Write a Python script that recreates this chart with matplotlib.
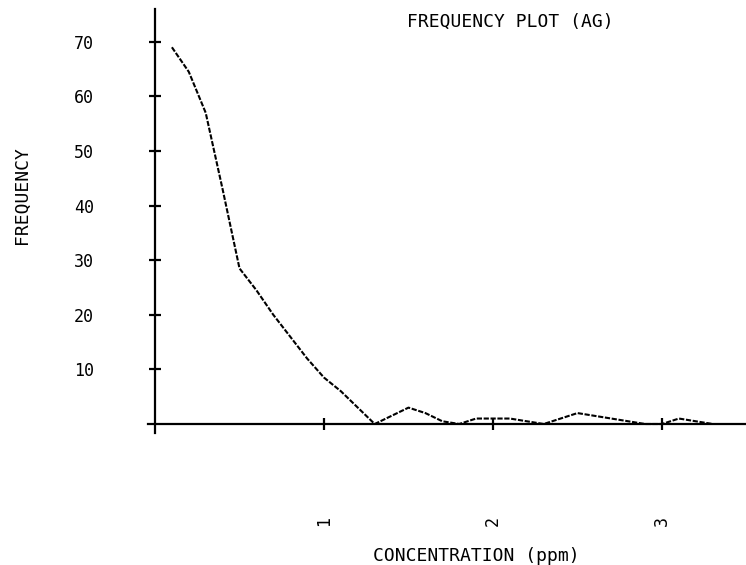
import matplotlib
matplotlib.use("Agg")
import matplotlib.pyplot as plt

# Data
concentration = [0.1, 0.2, 0.3, 0.4, 0.5, 0.6, 0.7, 0.8, 0.9, 1.0,
                 1.1, 1.2, 1.3, 1.4, 1.5, 1.6, 1.7, 1.8, 1.9, 2.0,
                 2.1, 2.2, 2.3, 2.4, 2.5, 2.6, 2.7, 2.8, 2.9, 3.0,
                 3.1, 3.2, 3.3]
frequency = [69, 64.5, 57, 43, 28.5, 24.5, 20, 16, 12, 8.5,
             6, 3, 0, 1.5, 3, 2, 0.5, 0, 1, 1,
             1, 0.5, 0, 1, 2, 1.5, 1, 0.5, 0, 0,
             1, 0.5, 0]

y_ticks = [10, 20, 30, 40, 50, 60, 70]
y_tick_labels = ["10", "20", "30", "40", "50", "60", "70"]
x_ticks = [1, 2, 3]
x_tick_labels = ["1", "2", "3"]

title = "FREQUENCY PLOT (AG)"
x_label = "CONCENTRATION (ppm)"
y_label = "FREQUENCY"

W, H = 746, 565
fig = plt.figure(figsize=(W / 100, H / 100), dpi=100)

# axes geometry (pixels)
x0_px, y0_px = 155, 424
px_per_x = 169.0
px_per_y = 5.46
xmin, xmax = -0.04, 3.5
ymin, ymax = -1.6, 76
left = x0_px + xmin * px_per_x
right = x0_px + xmax * px_per_x
bottom = y0_px - ymin * px_per_y
top = y0_px - ymax * px_per_y
ax = fig.add_axes([left / W, 1 - bottom / H, (right - left) / W, (bottom - top) / H])
ax.set_xlim(xmin, xmax)
ax.set_ylim(ymin, ymax)

ax.plot(concentration, frequency, color="black", linewidth=1.5,
        linestyle=(0, (2.5, 0.8)))

for s in ("top", "right"):
    ax.spines[s].set_visible(False)
ax.spines["left"].set_position(("data", 0))
ax.spines["bottom"].set_position(("data", 0))
ax.spines["left"].set_linewidth(1.6)
ax.spines["bottom"].set_linewidth(1.6)

mono = "DejaVu Sans Mono"
ax.set_yticks(y_ticks)
ax.set_yticklabels(y_tick_labels, fontfamily=mono, fontsize=12)
ax.set_xticks(x_ticks)
ax.set_xticklabels(x_tick_labels, fontfamily=mono, fontsize=12, rotation=90)
ax.tick_params(axis="y", direction="inout", length=8, width=1.6, pad=40)
ax.tick_params(axis="x", direction="inout", length=8, width=1.6, pad=62)

fig.text(510 / W, 1 - 22 / H, title, fontfamily=mono, fontsize=13,
         ha="center", va="center")
fig.text(476 / W, 1 - 556 / H, x_label, fontfamily=mono, fontsize=13,
         ha="center", va="center")
fig.text(22 / W, 1 - 195 / H, y_label, fontfamily=mono, fontsize=13,
         ha="center", va="center", rotation=90)

fig.savefig("out.png", dpi=100)
